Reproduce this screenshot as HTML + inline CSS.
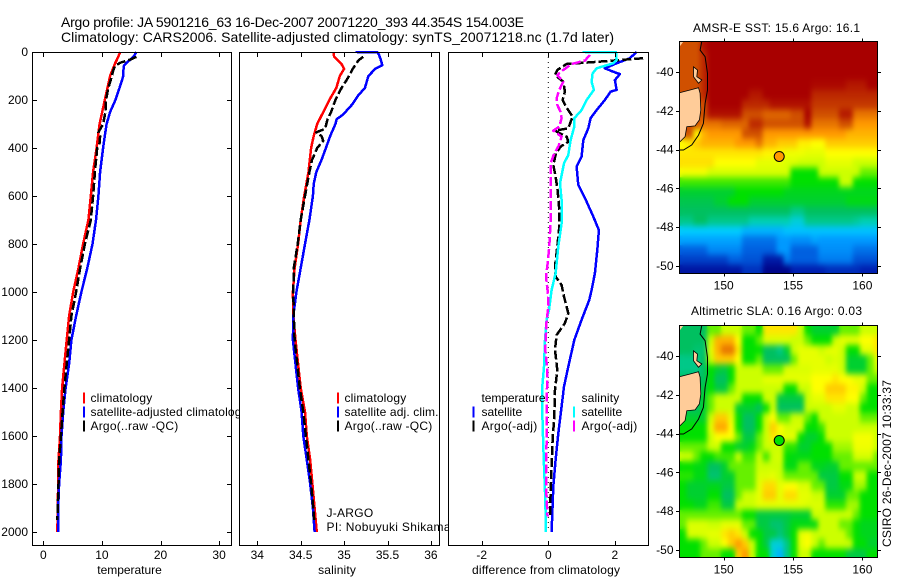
<!DOCTYPE html>
<html><head><meta charset="utf-8"><title>Argo profile 5901216_63</title>
<style>
html,body{margin:0;padding:0;background:#fff;}
#stage{position:absolute;left:0;top:0;width:900px;height:580px;overflow:hidden;}
svg text{font-family:"Liberation Sans",sans-serif;font-size:12px;fill:#000;}
</style></head>
<body>
<div id="stage">
<svg id="fig" xmlns="http://www.w3.org/2000/svg" width="900" height="580" viewBox="0 0 900 580">
<defs>
<clipPath id="clip-sst"><rect x="679.5" y="41.5" width="198" height="232"/></clipPath>
<clipPath id="clip-sla"><rect x="679.5" y="325.5" width="198" height="232"/></clipPath>
<filter id="field-smooth" x="-5%" y="-5%" width="110%" height="110%" color-interpolation-filters="sRGB">
<feGaussianBlur in="SourceGraphic" stdDeviation="2.4 3.2" result="soft"/>
<feMerge><feMergeNode in="SourceGraphic"/><feMergeNode in="soft"/></feMerge>
</filter>
</defs>
<rect x="0" y="0" width="900" height="580" fill="#fff"/>
<text x="61" y="27" textLength="463" style="font-size:14px">Argo profile: JA 5901216_63 16-Dec-2007 20071220_393 44.354S 154.003E</text>
<text x="61" y="42" textLength="553" style="font-size:14px">Climatology: CARS2006. Satellite-adjusted climatology: synTS_20071218.nc (1.7d later)</text>
<text transform="translate(891,463.5) rotate(-90)" text-anchor="middle" textLength="167">CSIRO 26-Dec-2007 10:33:37</text>
</svg>
</div>
<script>
/* ---------- temperature panel ---------- */
const tempClimDepth = [0,20,50,100,200,300,400,500,600,700,800,900,1000,1100,1200,1300,1400,1500,1600,1700,1800,1900,2000];
const tempClim = [13.1,12.8,12.2,11.4,10.5,9.6,9.1,8.5,8.1,7.7,6.8,6.0,5.1,4.4,4.0,3.6,3.2,3.0,2.85,2.6,2.55,2.45,2.4];
const tempSatDepth = [0,20,50,60,100,150,200,250,300,350,400,500,600,700,800,900,1000,1100,1200,1300,1400,1500,1600,1700,1800,1900,2000];
const tempSat = [15.9,15.4,14.0,13.7,13.65,13.0,12.3,11.4,10.8,10.5,10.2,9.7,9.4,9.0,8.4,7.5,6.5,5.6,4.8,4.4,3.8,3.4,3.1,3.0,2.7,2.55,2.55];
const tempArgoDepth = [20,30,45,60,80,100,150,200,250,300,335,350,380,400,500,600,700,800,900,1000,1100,1200,1300,1400,1500,1600,1700,1800,1900,1950];
const tempArgo = [15.9,15,13.1,12.2,11.9,11.7,11.1,10.7,10.6,10.2,9.4,9.7,9.6,9.2,8.8,8.5,8.1,7.1,6.3,5.6,4.8,4.4,4,3.6,3.3,3,2.7,2.6,2.45,2.4];
const tempTicks = [0,10,20,30];
const depthTicks = [0,200,400,600,800,1000,1200,1400,1600,1800,2000];

/* ---------- salinity panel ---------- */
const salClimDepth = [0,20,50,70,100,150,200,250,300,350,400,500,600,700,800,900,1000,1100,1200,1300,1400,1500,1600,1700,1800,1900,2000];
const salClim = [34.877,34.885,34.97,35.0,34.95,34.91,34.83,34.76,34.69,34.65,34.62,34.59,34.54,34.5,34.47,34.43,34.41,34.415,34.44,34.47,34.5,34.55,34.57,34.61,34.635,34.66,34.685];
const salSatDepth = [0,0.5,10,30,55,70,100,150,180,220,260,280,300,350,400,450,500,550,600,700,800,900,1000,1100,1200,1300,1400,1500,1600,1700,1800,1900,2000];
const salSat = [35.13,35.38,35.4,35.42,35.44,35.36,35.28,35.24,35.165,35.09,34.99,34.915,34.9,34.84,34.79,34.74,34.68,34.65,34.64,34.6,34.55,34.5,34.45,34.415,34.41,34.44,34.47,34.51,34.53,34.57,34.61,34.64,34.66];
const salArgoDepth = [20,35,70,110,150,200,250,280,320,335,350,370,400,450,500,600,700,800,900,1000,1100,1200,1300,1400,1500,1600,1700,1800,1900,1950];
const salArgo = [35.22,35.165,35.1,35.04,34.97,34.9,34.85,34.81,34.78,34.68,34.74,34.76,34.69,34.63,34.6,34.55,34.5,34.465,34.42,34.415,34.42,34.43,34.46,34.49,34.53,34.56,34.59,34.62,34.645,34.655];
const salTicks = [34,34.5,35,35.5,36];

/* ---------- difference panel ---------- */
const diffTempSatDepth = [0,26,47,68,82,92,117,158,165,200,242,276,318,367,436,478,554,617,686,742,825,922,992,1033,1116,1200,1311,1394,1477,1589,1700,1811,1922,2000];
const diffTempSat = [2.65,2.45,2.05,1.7,1.95,2.15,2.0,2.05,1.87,1.7,1.45,1.27,1.2,1.05,1.0,0.85,0.9,1.13,1.35,1.52,1.47,1.4,1.3,1.23,1.0,0.78,0.6,0.47,0.4,0.3,0.22,0.15,0.12,0.1];
const diffSalSatDepth = [0,0.5,33,47,68,89,124,158,200,242,276,311,367,429,464,547,617,714,811,922,992,1075,1116,1200,1311,1394,1505,1644,1755,1866,2000];
const diffSalSat = [1.03,2.03,2.05,1.95,1.45,1.33,1.3,1.37,1.15,1.0,0.78,0.78,0.67,0.6,0.47,0.35,0.4,0.4,0.3,0.22,0.1,0.02,-0.05,-0.1,-0.13,-0.18,-0.18,-0.15,-0.12,-0.09,-0.07];
const diffTempArgoDepth = [26,40,50,75,96,124,165,200,228,269,318,328,353,374,394,422,471,519,575,658,728,811,894,936,971,1019,1089,1130,1179,1241,1325,1408,1519,1616,1727,1838,1936];
const diffTempArgo = [2.85,1.55,0.55,0.27,0.2,0.45,0.5,0.43,0.53,0.73,0.6,0.2,0.55,0.6,0.37,0.23,0.15,0.22,0.28,0.33,0.33,0.27,0.2,0.22,0.4,0.47,0.6,0.5,0.25,0.2,0.27,0.2,0.18,0.13,0.1,0.07,0.05];
const diffSalArgoDepth = [12,36,50,75,96,124,158,193,221,249,276,311,328,353,394,422,464,575,672,811,894,936,1019,1075,1116,1241,1325,1505,1616,1755,1866,1936];
const diffSalArgo = [1.25,1.1,0.7,0.45,0.27,0.45,0.33,0.25,0.27,0.37,0.4,0.33,0.15,0.4,0.3,0.18,0.07,0.07,0.08,0.03,-0.03,-0.07,0,-0.01,-0.05,-0.09,-0.03,-0.05,-0.05,-0.07,-0.05,-0.02];
const diffTicks = [-2,0,2];

/* ---------- maps ---------- */
const lonTicks = [150,155,160];
const latTicks = [-40,-42,-44,-46,-48,-50];
const sstGridLevels = [
[12,12,12,12.8,13,13,13,13,13,13,13,13,13,13,13,13,13,13,13,13,13,13,13,13,13,13,13,13,13],
[12,12,12,12.5,13,13,13,13,13,13,13,13,13,13,13,13,13,13,13,13,13,13,13,13,13,13,13,13,13],
[12,12,12,12.5,13,13,13,13,13,13,13,13,13,13,13,13,13,13,13,13,13,13,13,13,13,13,13,13,13],
[12,12,12,12.5,13,13,13,13,13,13,13,13,13,13,13,13,13,13,13,13,13,13,13,13,13,13,13,13,13],
[12,12,12,12.5,13,13,13,13,13,13,13,13,13,13,13,13,13,13,13,12.9,12.9,12.9,12.9,12.9,12.7,12.7,12.7,13,13],
[12,12,12,12.5,13,13,13,13,13,13,12.7,12.7,13,13,13,13,13,13,13,12.5,12.5,12.5,12.5,12.5,12.5,12.5,12.5,12.5,12.5],
[12,12,12,12,13,13,13,13,13,12.5,12.5,12.5,12.5,12.8,12.8,12.8,12.8,12.8,12.8,12.3,12.3,12.3,12.3,12.3,12.3,12.3,12.3,12.3,12.3],
[12,12,12,12,12.8,12.8,12.8,12.8,12.8,12,12,12,11.7,11.7,11.7,11.7,12,12,13,12,12,12,12,12.7,12.7,11.5,11.5,11.5,11.5],
[12,12,12,11.5,11.5,11.5,11.7,11.7,11.7,11.7,12.5,12.5,12,12,12,12,12,12,12.8,11.5,11.5,11.5,11.5,12,12,11,11,11,11],
[12,12,9,10.5,11,11,11,11,11,12,12,12,11,11,11,11,11,11,11,11,11,11,11,11,10.5,10.5,10.5,10.5,10.5],
[9,9.5,10,10.5,10.5,10.5,10.5,10.5,11,11,11,11.5,10.5,10.5,10,10,10,9.3,9.3,9,9,10,10,10,10,10,10,10,10],
[9.5,9.5,9.5,9.5,9.5,9.5,9.5,9.5,9.5,9.5,9.5,9.5,9.2,9.2,9.2,8.7,8.7,8.7,8.5,8.5,8.5,9,9,9,9,9,9,9,9],
[9.6,9.6,9.6,9.6,9.6,9,9,9,9,9,9,8.5,8.5,8.5,8.5,8.3,8.3,8,8,8,8,8.5,8.5,8.5,8.5,8,8,8,8],
[8.8,8.8,8.8,8.8,8.2,8.2,8.2,8.2,8.2,8.2,8.2,8.2,8.2,8.2,8.2,8.2,7,7,7,7,8,8,8,8,8,8,7.5,7.5,7.5],
[7.3,7.3,7.3,7.3,7.3,7.3,7.3,7.3,7.3,7.3,7.3,7.3,7.3,7.3,7.3,7.3,7,7,7,7,7,7,7,8,8,7,7,7,7],
[6.5,6.5,6.5,6.5,6.5,6.5,6.5,6.5,7,7,7,7,7,7,7,6.7,6.7,6.7,6.7,6.7,6.7,6.7,6.7,6.7,6.7,6.7,6.7,6.7,6.7],
[6.2,6.2,6.2,6.2,6.2,6.5,6.5,7,7,7,6.5,6.5,6.5,6.5,6.5,6.5,6.5,6.5,6.5,6.5,6.5,6.5,6.5,6.5,6.8,6.8,6.8,6.8,6.8],
[6,6,6,6,6,6,6,6,6,6,6,6,6,6,6,6,5.5,5.5,6,6,6,6,6,6,6,6,6,6,6],
[5.5,5.5,6,6,5.5,5.5,5.5,5.5,5.5,5.5,5,5,5,5,5,5,4.5,4.5,5.5,5.5,5.5,5.5,5.5,5.5,5.5,5.3,5,5,5],
[4,4,4,4,4,4,4,4,4,3.5,3.5,3.5,3.5,3.5,3.5,3.8,3.8,3.8,3.8,3.8,3.8,3.8,3.8,3.8,3.8,3.8,3.8,3.8,3.8],
[3.2,3.2,3.2,3.2,3.2,3.2,3.2,3.2,3.2,2.3,2.3,2.3,2.3,2.3,3,3,2.8,2.8,2.8,3.2,3,3,3,3,3,3,3,3,3],
[2,2,2,2,2.7,2.7,2.7,2.7,2.7,2,2,2,2,2,3,3,2,2,2,2,2.8,2.8,2.8,2.8,2.8,2.3,2.3,2.3,2.3],
[1.5,1.5,1.5,1.5,1.5,1.5,1.5,2,2,1.8,1.8,1.8,0.8,0.8,0.8,2.5,2,2,2,2,2.5,2.5,2.5,2.5,2.5,1.8,1.8,1.8,1.8],
[0.7,0.7,0.7,0.7,0.7,0.7,0.7,0.7,0.7,1.3,1.3,1.3,0.2,0.2,0.2,0.2,1,1,1,1,1,1.2,1.2,1.2,1.2,1.2,1,1,1]
];
const slaGridLevels = [
[6,6,6,6,7.5,7.5,8,8,8,7.5,7.5,7,9.5,9.5,9.5,9.5,9.5,8,7,6.5,6.5,6.5,6.5,7.5,7.5,7.5,8,8,8],
[6,6,6,6,8,10.5,10.5,10.5,9,7,7,7.5,8.3,8.3,8.3,8.3,8,8,7.5,7,7,7,8,8.5,8.5,8.5,9,9,9.5],
[6,6,5.8,5.8,8.5,10.5,11.5,11.5,9.5,7,7,7,6,6,5.5,6.5,8,8.5,8.5,8.5,8,8.5,8.5,8,7,7,8.5,8.5,9.5],
[5.5,5.5,5.5,6,8,10,10,10,9,7,7,7.5,6,6,6,6,7.5,8.5,8.5,8.5,8.5,8,8.3,8,6.5,6.5,6.5,7.5,8.5],
[5.5,5.5,5.5,6,7,6.5,6.3,7,8,8,8,8,7.5,7.5,7.5,8.3,8.3,8.3,8.3,8.5,8.5,8.5,8.5,8,6.5,6.5,6.5,7.5,8],
[6,6,6,6,7,6,6,7,8,8,8,8,8.5,8.5,8.5,8.5,8.5,8.5,8.5,9,9,9,9.5,9,9,8.5,8.5,7.5,7.5],
[6,6,6,6.3,7,6.3,6.3,7.5,8,8,8,8,8,8,8,7,7,8,8,9,9,10,10,10,9.2,9.2,8,7,7],
[6,6,6,6.5,7.5,8,8,8,8,7,7,7,8,8,6.3,6.3,6.3,6.3,8,8.5,8.5,9.5,9.5,9.5,9,9,7.5,7,7],
[6,6,6,6.5,7.5,8,8,8,6.5,6.5,6.5,6,7,8,6,6,6,6,8,8,8,8,8.5,8.5,8,8,7,7,7],
[6.5,6.5,6.5,6.5,8,10,10,8.5,7,6,6,7,8,9,7.5,7.5,8,8,7.5,7,8,8,8,8,8,8,7.5,7.5,7.5],
[7,7,7,7,8.5,10.7,10.7,9,7,6,6,7,8,10,9,8.2,8.2,8.2,7,7,7.3,8,8,8,8,8,8,8,8],
[7,7,7,7,8,9,9,9,7.5,6.3,6.3,7.5,8,9.5,8.5,8.5,8.5,7,6.5,6.5,7,8,8,8,8,8.8,8.8,8.8,8],
[7.5,7.5,7.5,7.5,8,8,7,7,6.5,6.5,6.8,7.5,8,8,8,7.2,7.2,6.5,6.5,7,7,7,7.8,7.8,7.8,8.7,8.7,8.7,8],
[8,8,7.5,7,7,7.3,7.3,7.3,8,7.3,7.3,8,7.3,8,8.2,7,6.8,6.8,6.8,7,7,7,7.5,7.5,7.5,8.2,8.2,8.2,7.5],
[7,7,6.8,6.8,6,6,6.5,7.5,7.5,7.5,7.5,8,8,8,8,6.8,6.8,7.5,7.5,6.7,6.7,6.5,6.5,7.5,7.5,7.5,7.5,7.5,7.5],
[7.2,7.2,6.8,6.8,5.8,5.8,6.5,6.5,7.5,7.5,7.5,8.3,8.3,8.5,8,7.5,7.5,7.5,7.5,7.5,6.3,6.3,6.3,7,7,8,8,7,7],
[7,6.5,6.5,6.5,6.7,6.7,6.3,6.3,7.5,7.5,7.5,8.5,9.7,9.7,8.5,9,9,8.3,8.3,7.5,7.5,6.3,6.3,6.8,6.8,7.8,7.8,7,7],
[7,6.5,6.5,6.5,7,7,6,6,7.5,8,8,8.5,10,10,8.5,9.7,9.7,8.5,8.5,8,8,6.5,6.5,6.5,7.5,7.5,7,7,7],
[7,7,6.7,6.7,7.3,7.3,6.3,6.3,8,8,8,8.5,8.5,8.5,8.5,8.5,8.5,8.5,8.3,8.3,8.3,7.2,7.2,7.2,7.8,7.8,7,7,7],
[7.5,7.5,7.5,7.5,7.5,7.5,7.5,7.5,7.5,7,7,6.3,6.3,6.3,6.3,6.3,6.5,6.5,6.5,8,8,8,8,8,8,7.5,7,7,7],
[7.5,8.3,8.3,8.3,8,8,8.5,8.5,8.5,7.5,7.5,6.3,6.3,5.8,5.8,6.3,6.8,6.8,6.8,6.8,8,8,8,7.5,7.5,7,6.7,6.7,6.7],
[7,8.3,8.3,8.3,8.5,8.5,9.5,10,9.5,8,7,7,6.3,6.3,5.7,6.3,7,8.5,8.8,8,8,8,8,8,7.5,7,6.7,6.7,6.7],
[7,7,7,7.5,8,8,9,10,11,10,8,7,6.3,4.5,4.5,5.5,7,8.5,9,8,7.5,8,8,8,8,7,7,6.5,6.5],
[7,7,7,7.5,7.5,7.5,7,7,10,11,8,7,7,4.5,3.5,5.5,7,8,8,7,7,7,7,7,6.3,6.3,6.3,7,7]
];
const sstMarkerLevel = 11;
const slaMarkerLevel = 7;
const floatLon = 154.003;
const floatLat = -44.354;
const tasmaniaLon = [146.81,147.58,148.18,148.3,148.35,148.25,147.94,147.34,147.22,146.86,146.81];
const tasmaniaLat = [-41.07,-40.93,-40.81,-41.1,-41.96,-42.47,-42.78,-42.82,-43.33,-43.59,-43.59];
const flindersLon = [147.82,148.11,148.06,148.42,148.18,147.82];
const flindersLat = [-39.73,-39.9,-40.24,-40.41,-40.58,-40.24];
const mainlandLon = [146.81,147.1,146.81];
const mainlandLat = [-38.43,-38.43,-38.7];
const contourLon = [148.42,148.3,148.66,148.83,148.83,148.66,148.54,148.18,147.7,147.1,146.81];
const contourLat = [-38.42,-38.87,-39.21,-40.07,-40.93,-41.62,-42.65,-43.25,-43.76,-44.02,-44.02];
const colormapStops = ['#000080','#0020b0','#0060e0','#0099ff','#00ccff','#00d0b0','#00c060','#00e000','#ccff00','#ffff00','#ffcc00','#ff9900','#d05000','#a80000'];

/* ---------- axis functions ---------- */
const svg = document.getElementById('fig');
const NS = 'http://www.w3.org/2000/svg';
const depthY = d => 52 + d * 0.24;
const tempX = t => 43.3 + t * 5.86;
const salX = s => 257.3 + (s - 34) * 86.8;
const diffX = v => 548.3 + v * 33.3;
const lonX = lon => 723.7 + (lon - 150) * 13.87;
const latOffset = lat => (-40 - lat) * 19.4;
const sstY = lat => 72 + latOffset(lat);
const slaY = lat => 356 + latOffset(lat);

function make(tag, attrs, parent) {
  const el = document.createElementNS(NS, tag);
  for (const k in attrs) el.setAttribute(k, attrs[k]);
  (parent || svg).appendChild(el);
  return el;
}
function hexToRgb(h) {
  return [parseInt(h.slice(1,3),16), parseInt(h.slice(3,5),16), parseInt(h.slice(5,7),16)];
}
function levelColor(v) {
  const c = Math.max(0, Math.min(colormapStops.length - 1, v));
  const i = Math.min(colormapStops.length - 2, Math.floor(c));
  const f = c - i;
  const a = hexToRgb(colormapStops[i]);
  const b = hexToRgb(colormapStops[i + 1]);
  return 'rgb(' + a.map((x, n) => Math.round(x + (b[n] - x) * f)).join(',') + ')';
}
function profileLine(name, xs, ds, xFn, color, width, dash) {
  const pts = xs.map((v, i) => xFn(v).toFixed(1) + ',' + depthY(ds[i]).toFixed(1)).join(' ');
  const el = make('polyline', {points: pts, fill: 'none', stroke: color, 'stroke-width': width, 'stroke-linejoin': 'round', 'shape-rendering': 'crispEdges'});
  if (dash) el.setAttribute('stroke-dasharray', dash);
  
  
}
function label(name, x, y, str, anchor, width) {
  const t = make('text', {x: x, y: y, 'text-anchor': anchor || 'start'});
  if (width) t.setAttribute('textLength', width);
  t.textContent = str;
  
  
}
function tickLine(name, x1, y1, x2, y2) {
  const l = make('line', {x1: x1, y1: y1, x2: x2, y2: y2, stroke: '#000', 'stroke-width': 1, 'shape-rendering': 'crispEdges'});
  
  
}
function panelBackground(name, left, right) {
  const r = make('rect', {x: left, y: 52.5, width: right - left, height: 493, fill: '#fff'});
  
  
}
function panelFrame(name, left, right) {
  const r = make('rect', {x: left, y: 52.5, width: right - left, height: 493, fill: 'none', stroke: '#000', 'stroke-width': 1, 'shape-rendering': 'crispEdges'});
  
  
}
function xTicks(ticks, xFn, prefix) {
  ticks.forEach(v => {
    const px = Math.round(xFn(v)) + 0.5;
    tickLine(prefix + '-tick-top', px, 53, px, 57);
    tickLine(prefix + '-tick-bottom', px, 545, px, 541);
    label(prefix + '-tick-label', xFn(v), 559, String(v), 'middle');
  });
}
function swatch(name, x, yc, color) {
  const l = make('line', {x1: x, y1: yc - 5.5, x2: x, y2: yc + 5.5, stroke: color, 'stroke-width': 2, 'shape-rendering': 'crispEdges'});
  
  
}

/* ---------- panel 1: temperature ---------- */
panelBackground('temperature-panel-background', 32.5, 231.5);
profileLine('temperature-climatology-line', tempClim, tempClimDepth, tempX, '#ff0000', 2.5);
profileLine('temperature-satellite-line', tempSat, tempSatDepth, tempX, '#0000ff', 2.5);
profileLine('temperature-argo-line', tempArgo, tempArgoDepth, tempX, '#000000', 2.5, '9 3');
panelFrame('temperature-panel-frame', 32.5, 231.5);
xTicks(tempTicks, tempX, 'temperature');
depthTicks.forEach(d => {
  const py = Math.round(depthY(d)) + 0.5;
  tickLine('depth-tick-left', 33, py, 37, py);
  tickLine('depth-tick-right', 231, py, 227, py);
  label('depth-tick-label', 28, depthY(d) + 4, String(d), 'end');
});
label('temperature-axis-title', 129.5, 574, 'temperature', 'middle', 64.5);
swatch('legend-climatology-swatch', 84, 398, '#ff0000');
swatch('legend-satellite-swatch', 84, 412, '#0000ff');
swatch('legend-argo-swatch', 84, 426, '#000000');
label('legend-climatology-label', 90.5, 402, 'climatology', 'start', 61.7);
label('legend-satellite-label', 90.5, 416, 'satellite-adjusted climatology', 'start', 157);
label('legend-argo-label', 90.5, 430, 'Argo(..raw -QC)', 'start', 87.7);

/* ---------- panel 2: salinity ---------- */
panelBackground('salinity-panel-background', 239.5, 439.5);
profileLine('salinity-climatology-line', salClim, salClimDepth, salX, '#ff0000', 2.5);
profileLine('salinity-satellite-line', salSat, salSatDepth, salX, '#0000ff', 2.5);
profileLine('salinity-argo-line', salArgo, salArgoDepth, salX, '#000000', 2.5, '9 3');
panelFrame('salinity-panel-frame', 239.5, 439.5);
xTicks(salTicks, salX, 'salinity');
label('salinity-axis-title', 337, 574, 'salinity', 'middle', 37.7);
swatch('legend-sal-climatology-swatch', 338, 398, '#ff0000');
swatch('legend-sal-satellite-swatch', 338, 412, '#0000ff');
swatch('legend-sal-argo-swatch', 338, 426, '#000000');
label('legend-sal-climatology-label', 344.5, 402, 'climatology', 'start', 61.7);
label('legend-sal-satellite-label', 344.5, 416, 'satellite adj. clim.', 'start', 94);
label('legend-sal-argo-label', 344.5, 430, 'Argo(..raw -QC)', 'start', 87.7);
label('program-label', 326.5, 517, 'J-ARGO', 'start', 46.7);
label('pi-label', 326.5, 531, 'PI: Nobuyuki Shikama', 'start', 124);

/* ---------- panel 3: difference ---------- */
panelBackground('difference-panel-background', 448.5, 648.5);
const zeroLine = make('line', {x1: diffX(0), y1: depthY(0), x2: diffX(0), y2: depthY(2000), stroke: '#000', 'stroke-width': 1, 'stroke-dasharray': '1 4'});


profileLine('difference-temperature-satellite-line', diffTempSat, diffTempSatDepth, diffX, '#0000ff', 2.5);
profileLine('difference-temperature-argo-line', diffTempArgo, diffTempArgoDepth, diffX, '#000000', 2.5, '9 3');
profileLine('difference-salinity-satellite-line', diffSalSat, diffSalSatDepth, diffX, '#00ffff', 2.5);
profileLine('difference-salinity-argo-line', diffSalArgo, diffSalArgoDepth, diffX, '#ff00ff', 2.5, '9 3');
panelFrame('difference-panel-frame', 448.5, 648.5);
xTicks(diffTicks, diffX, 'difference');
label('difference-axis-title', 546, 574, 'difference from climatology', 'middle', 148);
label('legend-temperature-heading', 481.5, 402, 'temperature', 'start', 64);
swatch('legend-temp-satellite-swatch', 473.5, 412, '#0000ff');
swatch('legend-temp-argo-swatch', 473.5, 426, '#000000');
label('legend-temp-satellite-label', 481.5, 416, 'satellite', 'start', 40.7);
label('legend-temp-argo-label', 481.5, 430, 'Argo(-adj)', 'start', 55.7);
label('legend-salinity-heading', 581.5, 402, 'salinity', 'start', 37.7);
swatch('legend-diff-sal-satellite-swatch', 574, 412, '#00ffff');
swatch('legend-diff-sal-argo-swatch', 574, 426, '#ff00ff');
label('legend-diff-sal-satellite-label', 581.5, 416, 'satellite', 'start', 40.7);
label('legend-diff-sal-argo-label', 581.5, 430, 'Argo(-adj)', 'start', 55.7);

/* ---------- maps ---------- */
const gridLon0 = 146.81;
const gridLat0 = -38.43;
const gridStep = 0.5;
function polyPoints(lons, lats, yFn) {
  return lons.map((lon, i) => lonX(lon).toFixed(1) + ',' + yFn(lats[i]).toFixed(1)).join(' ');
}
function drawMap(prefix, rows, yFn, clipId, top, bottom, markerLevel, titleText, titleY, titleWidth) {
  const g = make('g', {'clip-path': 'url(#' + clipId + ')'});
  
  
  const cells = make('g', {filter: 'url(#field-smooth)'}, g);
  
  
  rows.forEach((row, j) => {
    row.forEach((v, i) => {
      const x0 = lonX(gridLon0 + i * gridStep);
      const x1 = lonX(gridLon0 + (i + 1) * gridStep);
      const y0 = yFn(gridLat0 - j * gridStep);
      const y1 = yFn(gridLat0 - (j + 1) * gridStep);
      const c = make('rect', {x: x0.toFixed(2), y: y0.toFixed(2), width: (x1 - x0 + 0.4).toFixed(2), height: (y1 - y0 + 0.4).toFixed(2), fill: levelColor(v)}, cells);
      
      
    });
  });
  const tas = make('polygon', {points: polyPoints(tasmaniaLon, tasmaniaLat, yFn), fill: '#ffcc99', stroke: '#000', 'stroke-width': 0.8}, g);
  
  
  const fli = make('polygon', {points: polyPoints(flindersLon, flindersLat, yFn), fill: '#ffcc99', stroke: '#000', 'stroke-width': 0.8}, g);
  
  
  const mai = make('polygon', {points: polyPoints(mainlandLon, mainlandLat, yFn), fill: '#ffcc99'}, g);
  
  
  const con = make('polyline', {points: polyPoints(contourLon, contourLat, yFn), fill: 'none', stroke: '#000', 'stroke-width': 1}, g);
  
  
  const m = make('circle', {cx: lonX(floatLon), cy: yFn(floatLat), r: 5, fill: levelColor(markerLevel), stroke: '#000', 'stroke-width': 1});
  
  
  const fr = make('rect', {x: 679.5, y: top, width: 198, height: bottom - top, fill: 'none', stroke: '#000', 'stroke-width': 1, 'shape-rendering': 'crispEdges'});
  
  
  lonTicks.forEach(v => {
    const px = Math.round(lonX(v)) + 0.5;
    tickLine(prefix + '-lon-tick-top', px, top, px, top - 3);
    tickLine(prefix + '-lon-tick-bottom', px, bottom, px, bottom + 3);
    label(prefix + '-lon-tick-label', lonX(v), bottom + 16, String(v), 'middle');
  });
  latTicks.forEach(v => {
    const py = Math.round(yFn(v)) + 0.5;
    tickLine(prefix + '-lat-tick-left', 679, py, 676, py);
    tickLine(prefix + '-lat-tick-right', 878, py, 881, py);
    label(prefix + '-lat-tick-label', 673.5, yFn(v) + 4, String(v), 'end');
  });
  label(prefix + '-map-title', 776.5, titleY, titleText, 'middle', titleWidth);
}
drawMap('sst', sstGridLevels, sstY, 'clip-sst', 41.5, 273.5, sstMarkerLevel, 'AMSR-E SST: 15.6 Argo: 16.1', 32, 167);
drawMap('sla', slaGridLevels, slaY, 'clip-sla', 325.5, 557.5, slaMarkerLevel, 'Altimetric SLA: 0.16 Argo: 0.03', 315, 171);
</script>
</body></html>
